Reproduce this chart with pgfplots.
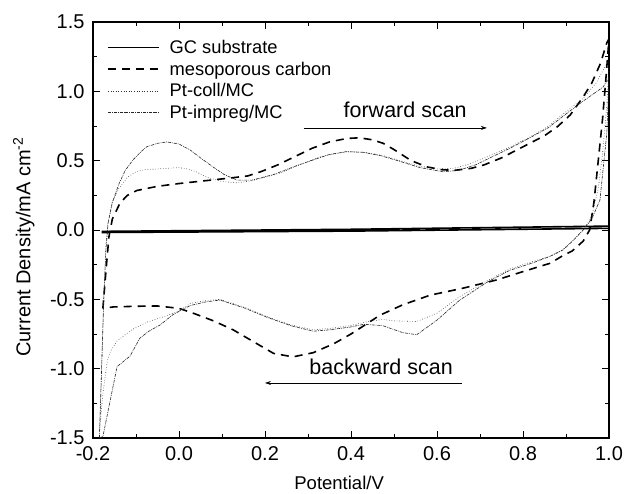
\documentclass[border=0pt]{standalone}
\usepackage{fontspec}
\setmainfont{Liberation Sans}
\usepackage{pgfplots}
\pgfplotsset{compat=1.18}
\usetikzlibrary{arrows.meta}

\newcommand{\fs}{\fontsize{20}{23}\selectfont}
\newcommand{\fleg}{\fontsize{18.3}{21}\selectfont}
\newcommand{\fann}{\fontsize{21.5}{25}\selectfont}

\begin{document}
\begin{tikzpicture}
\path[use as bounding box] (-93pt,-56pt) rectangle (532pt,438pt);
\begin{axis}[
  scale only axis, width=516pt, height=416pt,
  xmin=-0.2, xmax=1.0, ymin=-1.5, ymax=1.5,
  xtick={-0.2,0,...,1.0}, ytick={-1.5,-1,...,1.5},
  minor x tick num=1, minor y tick num=1,
  tick align=inside, major tick length=7pt, minor tick length=4pt,
  every tick/.style={black, line width=0.8pt},
  axis line style={line width=1.1pt},
  tick label style={font=\fs},
  /pgf/number format/assume math mode=true,
  /pgf/number format/.cd, fixed, fixed zerofill, precision=1, /pgfplots/.cd,
  yticklabel style={xshift=-5pt},
  xticklabel style={yshift=-5pt},
  xlabel={Potential/V},
  ylabel={Current Density/mA cm\textsuperscript{-2}},
  xlabel style={font=\fontsize{18.5}{22}\selectfont, at={(axis description cs:0.477,-0.108)}, anchor=center},
  ylabel style={font=\fs, at={(axis description cs:-0.134,0.459)}, anchor=center},
  legend style={at={(axis description cs:0.027,0.962)}, anchor=north west,
    draw=none, fill=none, font=\fleg, row sep=3pt,
    inner sep=0pt, /tikz/every odd column/.append style={column sep=8pt}},
  legend cell align=left,
  legend image code/.code={\draw[#1] (0pt,0pt) -- (51pt,0pt);},
]
% GC substrate
\addplot[black, line width=1.6pt] coordinates {
(-0.18,-0.010) (0.4,0.005) (1.0,0.028) (1.0,0.012) (0.4,-0.008) (-0.18,-0.018)};
\addlegendentry{GC substrate}
% mesoporous carbon
\addplot[black, line width=1.6pt, dash pattern=on 8pt off 6pt] coordinates {
(-0.177,-0.565) (-0.170,-0.30) (-0.163,-0.05) (-0.155,0.08) (-0.137,0.195)
(-0.12,0.25) (-0.098,0.285) (-0.05,0.315) (0.0,0.335) (0.06,0.355)
(0.12,0.375) (0.16,0.39) (0.19,0.42) (0.23,0.47) (0.27,0.53) (0.31,0.59)
(0.35,0.635) (0.39,0.66) (0.42,0.665) (0.45,0.65) (0.475,0.625) (0.5,0.58)
(0.54,0.50) (0.577,0.455) (0.61,0.435) (0.64,0.43) (0.68,0.445) (0.71,0.47)
(0.75,0.52) (0.8,0.60) (0.85,0.68) (0.88,0.745) (0.91,0.83) (0.94,0.96)
(0.96,1.06) (0.98,1.20) (0.995,1.35) (1.0,1.38)
(0.993,1.10) (0.985,0.80) (0.975,0.50) (0.965,0.20) (0.955,0.0) (0.94,-0.08)
(0.915,-0.15) (0.89,-0.19) (0.863,-0.24) (0.8,-0.30) (0.739,-0.36)
(0.66,-0.42) (0.584,-0.47) (0.52,-0.54) (0.467,-0.615) (0.43,-0.69)
(0.40,-0.75) (0.36,-0.82) (0.312,-0.885) (0.265,-0.915) (0.22,-0.89)
(0.17,-0.80) (0.126,-0.72) (0.08,-0.655) (0.033,-0.60) (0.0,-0.565)
(-0.05,-0.548) (-0.1,-0.55) (-0.153,-0.555) (-0.177,-0.565)};
\addlegendentry{mesoporous carbon}
% Pt-coll/MC
\addplot[black!80, line width=0.6pt, dotted] coordinates {
(-0.185,-1.45) (-0.18,-1.0) (-0.175,-0.5) (-0.17,-0.1) (-0.165,0.05)
(-0.155,0.2) (-0.14,0.3) (-0.12,0.38) (-0.1,0.42) (-0.08,0.435) (-0.05,0.44)
(0.0,0.45) (0.02,0.44) (0.04,0.42) (0.065,0.38) (0.1,0.35) (0.135,0.34)
(0.17,0.355) (0.2,0.38) (0.235,0.41) (0.28,0.47) (0.33,0.53) (0.39,0.565)
(0.43,0.56) (0.47,0.54) (0.514,0.50) (0.56,0.46) (0.6,0.44) (0.64,0.445)
(0.68,0.48) (0.723,0.535) (0.77,0.60) (0.816,0.67) (0.86,0.75) (0.893,0.835)
(0.94,0.95) (0.97,1.06) (0.995,1.20) (1.0,1.22)
(0.995,0.90) (0.985,0.55) (0.975,0.30) (0.96,0.10) (0.94,0.0) (0.915,-0.08)
(0.893,-0.14) (0.863,-0.19) (0.82,-0.23) (0.77,-0.28) (0.72,-0.36)
(0.653,-0.48) (0.6,-0.60) (0.553,-0.66) (0.5,-0.655) (0.474,-0.645)
(0.44,-0.66) (0.398,-0.69) (0.35,-0.71) (0.312,-0.72) (0.26,-0.685)
(0.205,-0.625) (0.15,-0.555) (0.095,-0.50) (0.06,-0.51) (0.026,-0.53)
(0.0,-0.585) (-0.04,-0.63) (-0.075,-0.665) (-0.11,-0.72) (-0.144,-0.80)
(-0.16,-0.88) (-0.167,-0.95) (-0.177,-1.18) (-0.185,-1.45)};
\addlegendentry{Pt-coll/MC}
% Pt-impreg/MC
\addplot[black!85, line width=0.6pt, dash pattern=on 3pt off 1pt on 0.8pt off 1pt] coordinates {
(-0.185,-1.50) (-0.18,-1.0) (-0.175,-0.5) (-0.17,-0.15) (-0.165,0.05)
(-0.155,0.2) (-0.14,0.33) (-0.125,0.43) (-0.107,0.505) (-0.09,0.56)
(-0.075,0.60) (-0.05,0.625) (-0.028,0.635) (0.0,0.62) (0.026,0.577)
(0.05,0.52) (0.079,0.455) (0.105,0.40) (0.135,0.36) (0.17,0.36) (0.22,0.40)
(0.27,0.46) (0.312,0.505) (0.35,0.545) (0.39,0.565) (0.43,0.56) (0.47,0.535)
(0.514,0.495) (0.56,0.45) (0.614,0.42) (0.65,0.43) (0.69,0.47) (0.723,0.52)
(0.77,0.59) (0.816,0.665) (0.86,0.74) (0.893,0.82) (0.94,0.93) (0.986,1.03)
(1.0,1.10)
(0.995,0.70) (0.985,0.40) (0.979,0.216) (0.96,0.08) (0.94,0.0) (0.915,-0.08)
(0.893,-0.144) (0.863,-0.19) (0.82,-0.24) (0.77,-0.29) (0.72,-0.37)
(0.653,-0.505) (0.6,-0.65) (0.553,-0.755) (0.52,-0.74) (0.474,-0.69)
(0.43,-0.68) (0.398,-0.70) (0.35,-0.72) (0.312,-0.73) (0.26,-0.69)
(0.205,-0.63) (0.15,-0.56) (0.095,-0.505) (0.06,-0.52) (0.026,-0.545)
(-0.014,-0.61) (-0.044,-0.685) (-0.07,-0.73) (-0.091,-0.78) (-0.114,-0.91)
(-0.144,-0.985) (-0.16,-1.23) (-0.177,-1.49) (-0.185,-1.50)};
\addlegendentry{Pt-impreg/MC}

% scan direction annotations
\draw[-{Stealth[length=6pt,width=4pt]}, line width=0.6pt] (axis cs:0.29,0.736) -- (axis cs:0.716,0.736);
\node[font=\fann] at (axis cs:0.526,0.869) {forward scan};
\draw[-{Stealth[length=6pt,width=4pt]}, line width=0.6pt] (axis cs:0.658,-1.103) -- (axis cs:0.2,-1.103);
\node[font=\fann] at (axis cs:0.470,-0.99) {backward scan};
\end{axis}
\end{tikzpicture}
\end{document}
